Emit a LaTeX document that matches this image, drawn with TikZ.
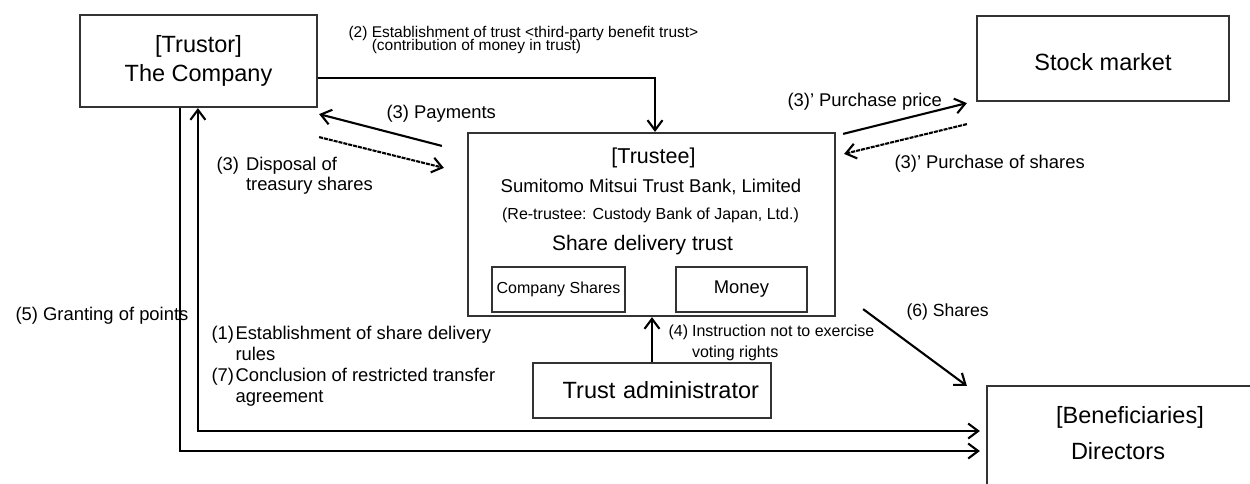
\documentclass[tikz,border=0pt]{standalone}
\usepackage{fontspec}
\setmainfont{Liberation Sans}
\usetikzlibrary{positioning, calc, arrows.meta}
\tikzset{
    >={Straight Barb[length=10pt,width=15pt]},
    box/.style={draw=black!80, line width=2.2pt, inner sep=0pt},
    flow/.style={line width=2.1pt, ->},
    back/.style={flow, dash pattern=on 4pt off 1pt},
    big/.style={font=\fontsize{23.5}{28.5}\selectfont},
    mid/.style={font=\fontsize{18.4}{21}\selectfont},
    sml/.style={font=\fontsize{16}{21}\selectfont},
}

\begin{document}
\begin{tikzpicture}[x=1pt,y=-1pt]
    \useasboundingbox (0,0) rectangle (1250,483);

    % Boxes
    \node[box, big, align=center, minimum width=237pt, minimum height=92pt] (trustor) at (198.5,61) {[Trustor]\\The Company};
    \node[box, big, text height=24pt, minimum width=252pt, minimum height=85pt] (market) at (1103,58.5) {Stock market};
    \node[box, minimum width=367pt, minimum height=183pt] (trustee) at (651.5,224.5) {};
    \node[box, sml, minimum width=133pt, minimum height=45pt] (shares) at (558.5,289.5) {Company Shares};
    \node[box, mid, minimum width=131pt, minimum height=45pt] (money) at (741.5,289.5) {Money};
    \node[box, big, inner xsep=12pt, text width=214pt, align=right, minimum height=55pt] (admin) at (652,390.5) {Trust administrator};
    \node[box, minimum width=290pt, minimum height=130pt] (benef) at (1132,451) {};

    % Texts in the trustee and beneficiary boxes
    \node[font=\fontsize{21.5}{26}\selectfont, anchor=base] (trusteeTitle) at (653.5,163) {[Trustee]};
    \node[font=\fontsize{18.5}{22}\selectfont, anchor=base] (bank) at (651,192.5) {Sumitomo Mitsui Trust Bank, Limited};
    \node[sml, anchor=base] (retrustee) at (650.5,219) {(Re-trustee: Custody Bank of Japan, Ltd.)};
    \node[font=\fontsize{21}{25}\selectfont, anchor=base] (trustType) at (642.5,250.5) {Share delivery trust};
    \node[big, anchor=base] (benefTitle) at (1130,423) {[Beneficiaries]};
    \node[big, anchor=base] (directors) at (1118,459) {Directors};

    % Flows
    \draw[flow] ([yshift=-17pt]trustor.east) -| ([xshift=3.5pt]trustee.north);
    \draw[flow] ([shift={(-25pt,-14pt)}]trustee.north west) -- ([shift={(1pt,-6pt)}]trustor.south east);
    \draw[back] ([shift={(1pt,-29pt)}]trustor.south east) -- ([shift={(-23pt,-36pt)}]trustee.north west);
    \draw[flow] ([shift={(7pt,-2pt)}]trustee.north east) -- ([shift={(-9pt,-1pt)}]market.south west);
    \draw[back] ([shift={(-9pt,-22pt)}]market.south west) -- ([shift={(8pt,-22pt)}]trustee.north east);
    \draw[flow] (admin.north) -- (admin.north |- trustee.south);
    \draw[flow] ([shift={(27pt,8pt)}]trustee.south east) -- ([shift={(-19pt,-1pt)}]benef.north west);
    \draw[flow, shorten >=6pt] ([xshift=101pt]trustor.south west) |- (benef.west);
    \draw[flow, <->, shorten >=6pt] ([xshift=119pt]trustor.south west) |- ([yshift=20pt]benef.west);

    % Labels
    \node[anchor=base west, font=\fontsize{15.5}{13.5}\selectfont] (lblTrust) at (345,37)
        {\begin{tabular}[t]{@{}l@{\ }l@{}}(2)&Establishment of trust <third-party benefit trust>\\[-2pt]&(contribution of money in trust)\end{tabular}};
    \node[mid, anchor=base west] (lblPay) at (383,118) {(3) Payments};
    \node[mid, anchor=base west, font=\fontsize{18.4}{20.5}\selectfont] (lblDisposal) at (213,170)
        {\begin{tabular}[t]{@{}l@{\hspace{7pt}}l@{}}(3)&Disposal of\\&treasury shares\end{tabular}};
    \node[mid, anchor=base west] (lblPrice) at (784,106) {(3)' Purchase price};
    \node[mid, anchor=base west] (lblBuy) at (891,168) {(3)' Purchase of shares};
    \node[mid, anchor=base west] (lblPoints) at (12,320) {(5) Granting of points};
    \node[mid, anchor=base west, font=\fontsize{17.6}{21}\selectfont] (lblShares) at (903,316) {(6) Shares};
    \node[mid, anchor=base west] (lblRules) at (208,339)
        {\begin{tabular}[t]{@{}l@{\hspace{1.5pt}}l@{}}(1)&Establishment of share delivery\\&rules\\(7)&Conclusion of restricted transfer\\&agreement\end{tabular}};
    \node[sml, anchor=base west] (lblVote) at (665,336)
        {\begin{tabular}[t]{@{}l@{\hspace{4pt}}l@{}}(4)&Instruction not to exercise\\&voting rights\end{tabular}};
\end{tikzpicture}
\end{document}
